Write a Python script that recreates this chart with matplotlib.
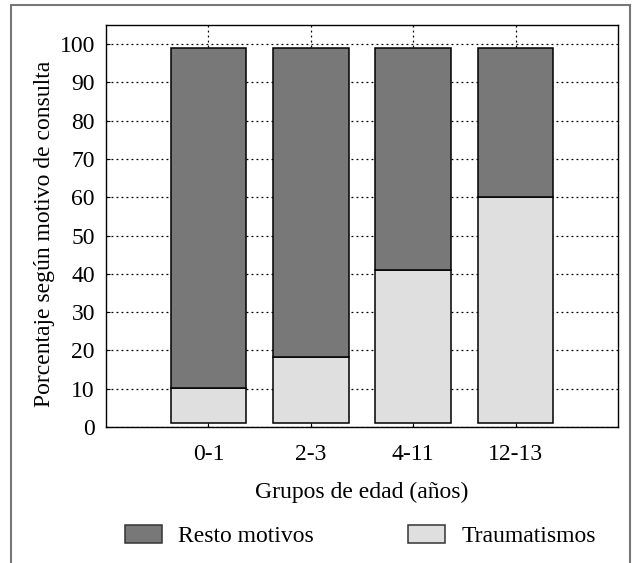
import matplotlib.pyplot as plt
from matplotlib.patches import Rectangle

# Data
grupos = ["0-1", "2-3", "4-11", "12-13"]
traumatismos = [10.1, 18.3, 41.1, 60.1]   # top of the light segment
base = [1, 1, 1, 1]                        # bars start slightly above 0
total = [99, 99, 99, 99]                   # top of the stacked bars

plt.rcParams['font.family'] = ['Liberation Serif', 'DejaVu Serif']

fig = plt.figure(figsize=(6.32, 5.63), dpi=100)
ax = fig.add_axes([106/632, 1 - 427/563, (618 - 106)/632, (427 - 25)/563])

x = range(len(grupos))
traum_h = [t - b for t, b in zip(traumatismos, base)]
resto_h = [tot - t for tot, t in zip(total, traumatismos)]

ax.bar(x, traum_h, bottom=base, width=0.74, color="#dfdfdf", edgecolor="black",
       linewidth=1.1, label="Traumatismos", zorder=3)
ax.bar(x, resto_h, bottom=traumatismos, width=0.74, color="#787878", edgecolor="black",
       linewidth=1.1, label="Resto motivos", zorder=3)

ax.set_xlim(-1, 4)
ax.set_ylim(0, 105)
ax.set_yticks(range(0, 101, 10))
ax.set_xticks(list(x))
ax.set_xticklabels(grupos)
ax.tick_params(direction="in", length=3, labelsize=17)
ax.tick_params(axis="x", pad=12)
ax.tick_params(axis="y", pad=8)
ax.grid(True, linestyle=(0, (1.5, 2.5)), color="black", linewidth=0.9, zorder=0)
for s in ax.spines.values():
    s.set_linewidth(1.0)

ax.set_xlabel("Grupos de edad (años)", fontsize=17, labelpad=12)
ax.set_ylabel("Porcentaje según motivo de consulta", fontsize=17)
ax.yaxis.set_label_coords(-0.10, 0.48)

h, l = ax.get_legend_handles_labels()
leg = fig.legend(h[::-1], l[::-1], loc="center", bbox_to_anchor=(0.570, 1 - 536/563),
                 ncol=2, frameon=False, fontsize=17, handlelength=1.57, handleheight=0.8,
                 columnspacing=4.0, handletextpad=0.68)
for p in leg.get_patches():
    p.set_edgecolor("#333333")

# outer frame around the figure
fig.patches.append(Rectangle((11/632, -0.02), (630 - 11)/632, 1 - 5/563 + 0.02,
                             transform=fig.transFigure, fill=False,
                             edgecolor="#777777", linewidth=1.5))

fig.savefig("out.png", dpi=100)
